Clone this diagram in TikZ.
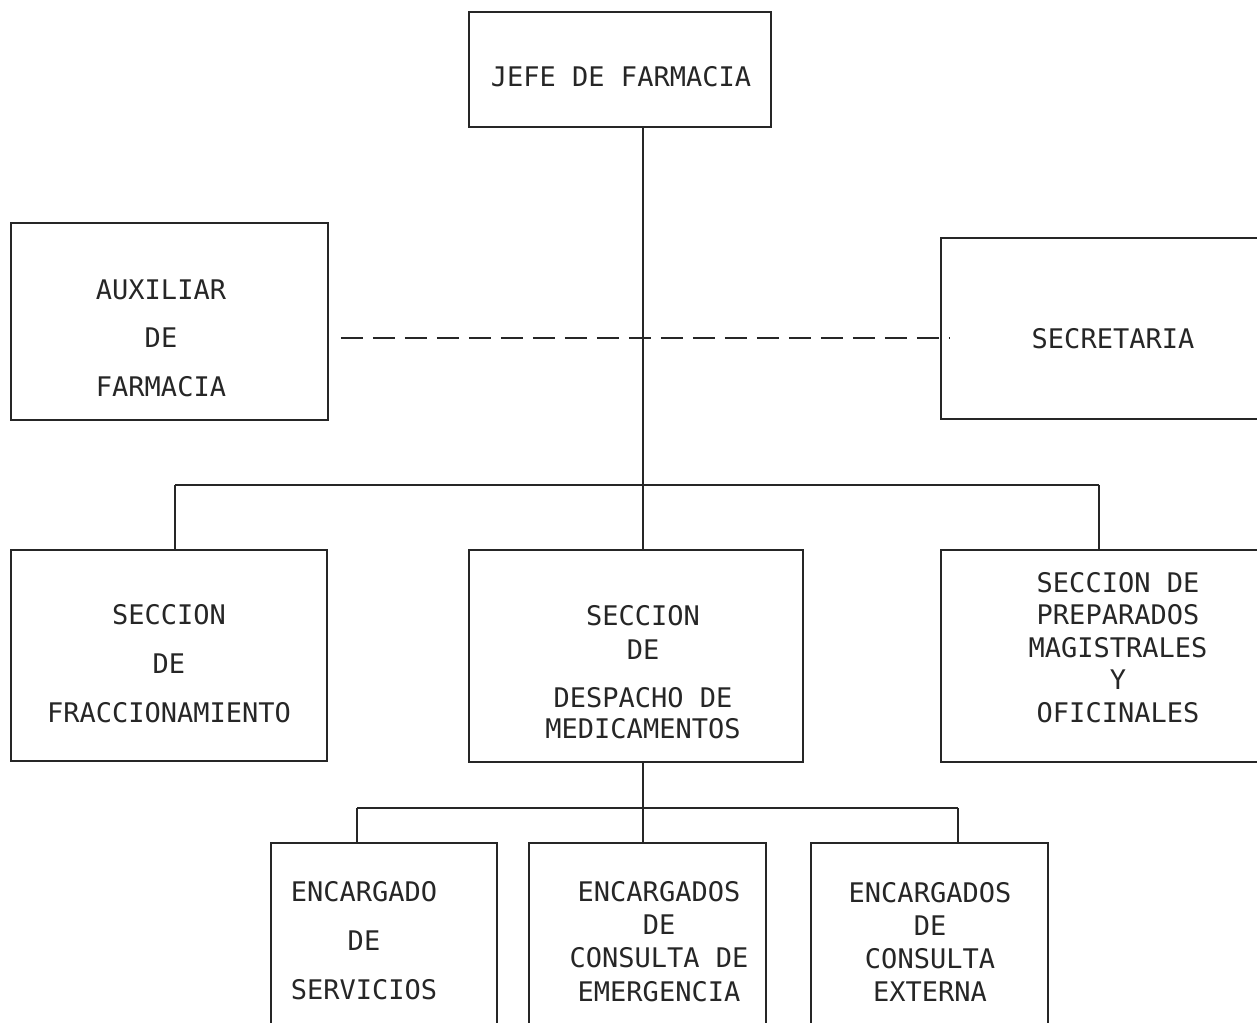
\documentclass[tikz,border=0pt]{standalone}
\usepackage{fontspec}
\setmonofont{DejaVu Sans Mono}
\definecolor{ink}{HTML}{262626}
\begin{document}
\begin{tikzpicture}[x=1pt,y=-1pt,
  box/.style={draw=ink, line width=1.5pt, rectangle, inner sep=0pt},
  txt/.style={text=ink, align=center, anchor=base, inner sep=0pt},
  wire/.style={draw=ink, line width=1.4pt}]
\useasboundingbox (0,0) rectangle (1257,1022);
\fill[white] (0,0) rectangle (1257,1022);
\clip (0,0) rectangle (1257,1022);
% boxes
\node[box, minimum width=302pt, minimum height=115pt] (jefe) at (620,69.5) {};
\node[box, minimum width=317pt, minimum height=197pt] (aux) at (169.5,321.5) {};
\node[box, minimum width=359pt, minimum height=181pt] (sec) at (1120.5,328.5) {};
\node[box, minimum width=316pt, minimum height=211pt] (frac) at (169,655.5) {};
\node[box, minimum width=334pt, minimum height=212pt] (desp) at (636,656) {};
\node[box, minimum width=359pt, minimum height=212pt] (prep) at (1120.5,656) {};
\node[box, minimum width=226pt, minimum height=217pt] (serv) at (384,951.5) {};
\node[box, minimum width=237pt, minimum height=217pt] (emer) at (647.5,951.5) {};
\node[box, minimum width=237pt, minimum height=217pt] (ext) at (929.5,951.5) {};
% texts (anchored at the baseline of the last line)
\node[txt, font=\ttfamily\fontsize{27}{32}\selectfont] (jefe-t) at (621,87) {JEFE DE FARMACIA};
\node[txt, font=\ttfamily\fontsize{27}{48.5}\selectfont] (aux-t) at (161,396) {AUXILIAR\\DE\\FARMACIA};
\node[txt, font=\ttfamily\fontsize{27}{32}\selectfont] (sec-t) at (1113,348) {SECRETARIA};
\node[txt, font=\ttfamily\fontsize{27}{49}\selectfont] (frac-t) at (169,722) {SECCION\\DE\\FRACCIONAMIENTO};
\node[txt, font=\ttfamily\fontsize{27}{31}\selectfont] (desp-t) at (643,738) {SECCION\\[3pt]DE\\[17pt]DESPACHO DE\\MEDICAMENTOS};
\node[txt, font=\ttfamily\fontsize{27}{32.5}\selectfont] (prep-t) at (1118,722) {SECCION DE\\PREPARADOS\\MAGISTRALES\\Y\\OFICINALES};
\node[txt, font=\ttfamily\fontsize{27}{49}\selectfont] (serv-t) at (364,999) {ENCARGADO\\DE\\SERVICIOS};
\node[txt, font=\ttfamily\fontsize{27}{33.3}\selectfont] (emer-t) at (659,1001) {ENCARGADOS\\DE\\CONSULTA DE\\EMERGENCIA};
\node[txt, font=\ttfamily\fontsize{27}{33}\selectfont] (ext-t) at (930,1001) {ENCARGADOS\\DE\\CONSULTA\\EXTERNA};
% connectors
\coordinate (busC) at (643,485);
\coordinate (busL) at (175,485);
\coordinate (busR) at (1099,485);
\draw[wire] (jefe.south -| busC) -- (busC) -- (busC |- desp.north);
\draw[wire] (busL) -- (busR);
\draw[wire] (busL) -- (busL |- frac.north);
\draw[wire] (busR) -- (busR |- prep.north);
\draw[wire, dash pattern=on 22pt off 10pt] ([xshift=12pt]aux.east |- 0,338) -- ([xshift=10pt]sec.west |- 0,338);
\coordinate (bus2C) at (643,808);
\coordinate (bus2L) at (357,808);
\coordinate (bus2R) at (958,808);
\draw[wire] (desp.south -| bus2C) -- (bus2C) -- (bus2C |- emer.north);
\draw[wire] (bus2L) -- (bus2R);
\draw[wire] (bus2L) -- (bus2L |- serv.north);
\draw[wire] (bus2R) -- (bus2R |- ext.north);
\end{tikzpicture}
\end{document}
